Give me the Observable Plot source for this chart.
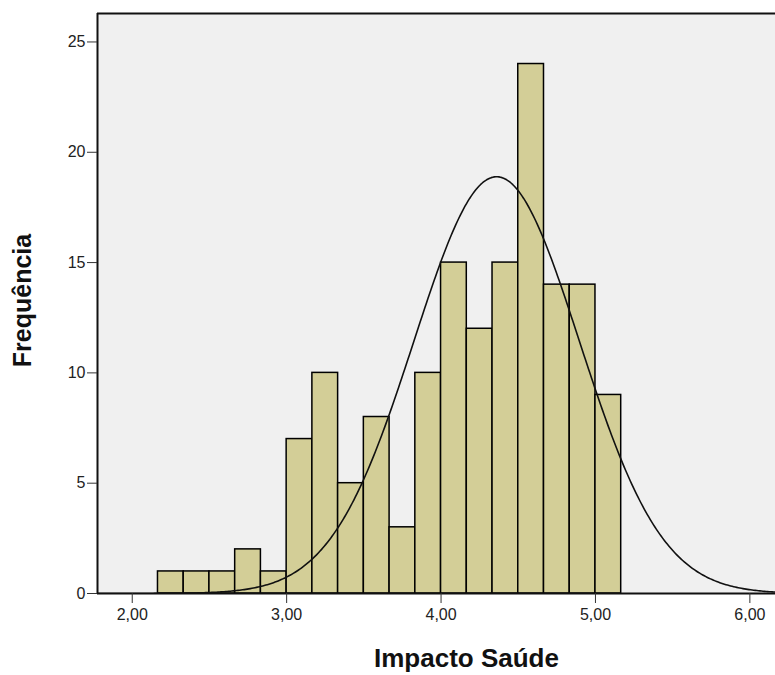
<!DOCTYPE html>
<html><head><meta charset="utf-8">
<script src="https://cdn.jsdelivr.net/npm/d3@7"></script>
<script src="https://cdn.jsdelivr.net/npm/@observablehq/plot@0.6"></script>
<style>
body{margin:0;background:#fff;}
</style>
</head><body><div id="chart"></div>
<script>
// Histogram counts (bins of width 1/6 starting at 2.1667)
const counts = [1,1,1,2,1,7,10,5,8,3,10,15,12,15,24,14,14,9];
const firstBinStart = 13/6;
const binWidth = 1/6;
const xTicks = [2,3,4,5,6];
const yTicks = [0,5,10,15,20,25];
const curveMean = 4.36;
const curveSd = 0.535;
const xTitle = "Impacto Saúde";
const yTitle = "Frequência";
const xDomain = [1.775, 6.166];
const yDomain = [0, 26.29];

const bins = counts.map((c, i) => ({x1: firstBinStart + i * binWidth, x2: firstBinStart + (i + 1) * binWidth, count: c}));
const total = d3.sum(counts);
const curve = d3.range(xDomain[0], xDomain[1] + 0.01, 0.01).map(x => ({
  x, y: total * binWidth * Math.exp(-0.5 * ((x - curveMean) / curveSd) ** 2) / (curveSd * Math.sqrt(2 * Math.PI))
}));
const fmt = d => d.toFixed(2).replace(".", ",");

const chart = Plot.plot({
  width: 775,
  height: 675,
  marginLeft: 97,
  marginRight: 0,
  marginTop: 13,
  marginBottom: 82,
  style: {fontFamily: "'Liberation Sans', Arial, sans-serif", color: "#222", background: "#fff"},
  x: {domain: xDomain},
  y: {domain: yDomain},
  marks: [
    Plot.frame({fill: "#f0f0f0", stroke: "none"}),
    Plot.rectY(bins, {x1: "x1", x2: "x2", y: "count", fill: "#d3ce97", stroke: "#000", strokeWidth: 1.5}),
    Plot.line(curve, {x: "x", y: "y", stroke: "#111", strokeWidth: 1.6, clip: true}),
    Plot.ruleY([yDomain[1]], {stroke: "#111", strokeWidth: 2}),
    Plot.ruleX([xDomain[0]], {stroke: "#111", strokeWidth: 2}),
    Plot.ruleY([0], {stroke: "#111", strokeWidth: 2}),
    Plot.axisX({ticks: xTicks, tickFormat: fmt, tickSize: 10, tickPadding: 5, fontSize: 16, label: null, stroke: "#333"}),
    Plot.axisY({ticks: yTicks, tickSize: 10, tickPadding: 2, fontSize: 16, label: null, stroke: "#333"}),
    Plot.text([xTitle], {frameAnchor: "bottom", dx: 30, dy: 73, lineAnchor: "bottom", textAnchor: "middle", fontSize: 26, fontWeight: "bold", fill: "#111"}),
    Plot.text([yTitle], {frameAnchor: "left", rotate: -90, dx: -67, dy: -3, lineAnchor: "bottom", textAnchor: "middle", fontSize: 25, fontWeight: "bold", fill: "#111"})
  ]
});
document.getElementById("chart").appendChild(chart);
</script>
</body></html>
